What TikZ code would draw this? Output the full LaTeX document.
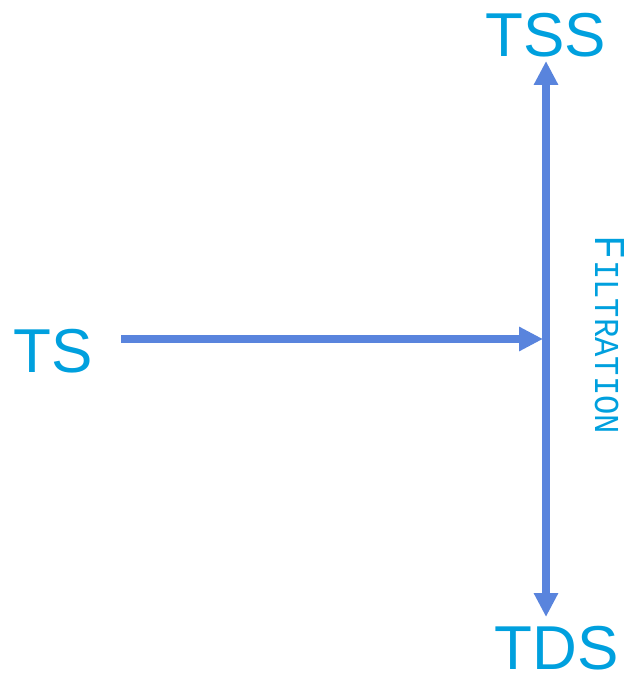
\documentclass[tikz,border=0pt]{standalone}
\usepackage{fontspec}
\setmainfont{Liberation Sans}
\newfontfamily\monofont{Liberation Mono}
\usetikzlibrary{arrows.meta}
\definecolor{labcyan}{RGB}{0,160,222}
\definecolor{arrblue}{RGB}{89,132,221}
\tikzset{
  biglabel/.style={text=labcyan, font=\fontsize{62}{62}\selectfont, inner sep=0pt, anchor=base},
  flowarrow/.style={draw=arrblue, line width=7.5pt, -{Triangle[length=24pt,width=23pt]}},
}
\begin{document}
\begin{tikzpicture}[x=1pt,y=-1pt]
\useasboundingbox (0,0) rectangle (631,676);
\node[biglabel] (tss) at (545.5,57) {TSS};
\node[biglabel] (tds) at (556.5,669) {TDS};
\node[biglabel] (ts) at (53.5,372) {TS};
\coordinate (mid) at (546,339);
\coordinate (top) at (546,61);
\coordinate (bot) at (546,617);
\coordinate (start) at (121,339);
\coordinate (junc) at (543,339);
\draw[flowarrow] (mid) -- (top);
\draw[flowarrow] (mid) -- (bot);
\draw[flowarrow] (start) -- (junc);
\node[text=labcyan, rotate=-90, inner sep=0pt, anchor=base, xscale=0.92] (filt) at (595,335)
  {\monofont\fontsize{44}{44}\selectfont F\fontsize{35}{35}\selectfont ILTRATION};
\end{tikzpicture}
\end{document}
